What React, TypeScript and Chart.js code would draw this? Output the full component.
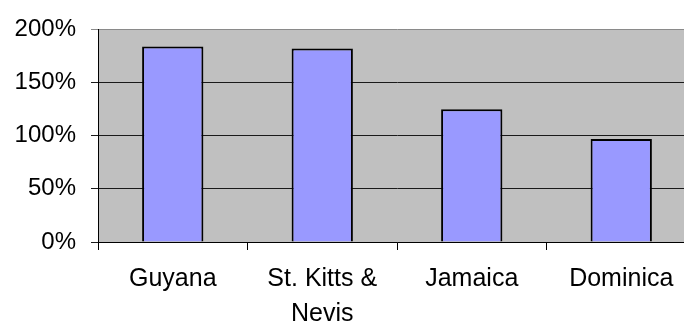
import React, { useEffect, useRef } from "react";
import { Chart, registerables } from "chart.js";

Chart.register(...registerables);

const countries: (string | string[])[] = ["Guyana", ["St. Kitts &", "Nevis"], "Jamaica", "Dominica"];
const ratios: number[] = [184, 182, 125, 97];
const yTicks: number[] = [0, 50, 100, 150, 200];

const plotBackground = {
  id: "plotBackground",
  beforeDraw(chart: any) {
    const { ctx, chartArea } = chart;
    ctx.save();
    ctx.fillStyle = "#c0c0c0";
    ctx.fillRect(chartArea.left, chartArea.top, chartArea.right - chartArea.left, chartArea.bottom - chartArea.top);
    ctx.restore();
  },
};

export default function App() {
  const ref = useRef<HTMLCanvasElement | null>(null);

  useEffect(() => {
    if (!ref.current) return;
    const family = "'Liberation Sans', Arial, sans-serif";
    const chart = new Chart(ref.current, {
      type: "bar",
      data: {
        labels: countries,
        datasets: [
          {
            data: ratios,
            backgroundColor: "#9999ff",
            borderColor: "#000000",
            borderWidth: 2,
            barPercentage: 0.41,
            categoryPercentage: 1,
          },
        ],
      },
      options: {
        responsive: false,
        animation: false,
        layout: { padding: { top: 15, right: 4, left: 0, bottom: 0 } },
        plugins: { legend: { display: false }, tooltip: { enabled: false } },
        scales: {
          x: {
            offset: true,
            border: { display: true, color: "#000000", width: 1 },
            grid: { display: true, drawOnChartArea: false, drawTicks: true, tickLength: 8, color: "#000000", offset: true },
            ticks: { color: "#000000", font: { family, size: 25, lineHeight: 1.4 }, padding: 12, maxRotation: 0, autoSkip: false },
            afterFit(scale: any) {
              scale.height = 81;
            },
          },
          y: {
            min: 0,
            max: 200,
            afterBuildTicks(scale: any) {
              scale.ticks = yTicks.map((v) => ({ value: v }));
            },
            border: { display: true, color: "#000000", width: 1 },
            grid: {
              color: (c: any) => (c.tick && c.tick.value === 200 ? "#8a8a8a" : "#1a1a1a"),
              lineWidth: 1,
              tickLength: 7,
            },
            ticks: {
              color: "#000000",
              font: { family, size: 24 },
              padding: 15,
              callback: (v: any) => `${v}%`,
            },
            afterFit(scale: any) {
              scale.width = 98;
            },
          },
        },
      },
      plugins: [plotBackground],
    });
    return () => chart.destroy();
  }, []);

  return (
    <div style={{ position: "fixed", left: 0, top: 0, width: 684, height: 323, overflow: "hidden" }}>
      <canvas ref={ref} width={700} height={323} style={{ display: "block" }} />
    </div>
  );
}
